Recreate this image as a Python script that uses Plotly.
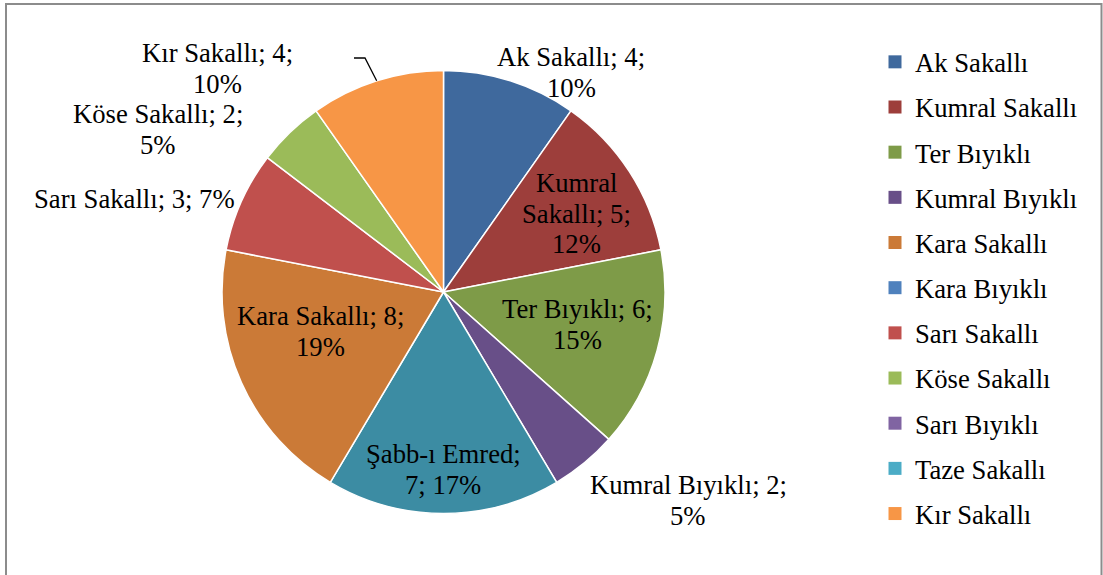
import math
import plotly.graph_objects as go

W, H = 1103, 575

# ---- data (pie slices, clockwise from 12 o'clock) ----
slice_labels = ["Ak Sakallı", "Kumral Sakallı", "Ter Bıyıklı", "Kumral Bıyıklı",
                "Şabb-ı Emred", "Kara Sakallı", "Sarı Sakallı", "Köse Sakallı", "Kır Sakallı"]
slice_values = [4, 5, 6, 2, 7, 8, 3, 2, 4]
slice_percents = [10, 12, 15, 5, 17, 19, 7, 5, 10]

# ---- legend entries ----
legend_labels = ["Ak Sakallı", "Kumral Sakallı", "Ter Bıyıklı", "Kumral Bıyıklı", "Kara Sakallı",
                 "Kara Bıyıklı", "Sarı Sakallı", "Köse Sakallı", "Sarı Bıyıklı", "Taze Sakallı", "Kır Sakallı"]

# ---- styles ----
slice_colors = ["#3F699D", "#9D3E3B", "#7E9B48", "#684F88", "#3C8CA3",
                "#CB7A37", "#C0504D", "#9BBB59", "#F79646"]
legend_colors = ["#3F699D", "#9D3E3B", "#7E9B48", "#684F88", "#CB7A37",
                 "#4F81BD", "#C0504D", "#9BBB59", "#8064A2", "#4BACC6", "#F79646"]
wrap_width = [15, 11, 15, 18, 13, 16, 30, 16, 15]
# label anchor (center x, first-line baseline y) in pixels
label_pos = [(571, 66), (576, 192), (577, 318), (688, 494), (443, 463),
             (320, 325), (134, 208), (158, 123), (217.5, 62)]
FONT = "Liberation Serif"
FS = 26.67
LINE_H = 30.7

# pie geometry in pixels
CX, CY, R = 443.5, 292.0, 221.5


def px(x):
    return x / W


def py(y):
    return 1 - y / H


def wrap(text, width):
    words = text.split(" ")
    lines, cur = [], ""
    for w in words:
        cand = w if not cur else cur + " " + w
        if len(cand) <= width or not cur:
            cur = cand
        else:
            lines.append(cur)
            cur = w
    lines.append(cur)
    return lines


fig = go.Figure()
fig.add_trace(go.Pie(
    labels=slice_labels, values=slice_values, sort=False, direction="clockwise",
    rotation=0, textinfo="none", hoverinfo="label+value+percent",
    marker=dict(colors=slice_colors, line=dict(color="white", width=1.5)),
    domain=dict(x=[px(CX - R), px(CX + R)], y=[py(CY + R), py(CY - R)]),
    showlegend=False,
))

for i, (lab, col) in enumerate(zip(legend_labels, legend_colors)):
    fig.add_trace(go.Scatter(
        x=[None], y=[None], mode="markers", name=lab, legendgroup=f"g{i}",
        marker=dict(symbol="square", size=13, color=col),
    ))

annotations = []
for lab, v, p, ww, (lx, ly) in zip(slice_labels, slice_values, slice_percents, wrap_width, label_pos):
    lines = wrap(f"{lab}; {v}; {p}%", ww)
    for k, line in enumerate(lines):
        base = ly + k * LINE_H
        annotations.append(dict(
            x=px(lx), y=py(base - 0.3375 * FS), xref="paper", yref="paper",
            text=line, showarrow=False, xanchor="center", yanchor="middle",
            font=dict(family=FONT, size=FS, color="black"), borderpad=0,
        ))

# leader line for the last slice (Kır Sakallı)
total = sum(slice_values)
mid = (total - slice_values[-1] / 2) / total * 2 * math.pi
ex, ey = CX + R * math.sin(mid), CY - R * math.cos(mid)
shapes = [
    dict(type="path", xref="paper", yref="paper",
         path=f"M {px(354)} {py(58)} L {px(365)} {py(58)} L {px(ex)} {py(ey)}",
         line=dict(color="black", width=1.3)),
    dict(type="rect", xref="paper", yref="paper", x0=px(6), x1=px(1101.5), y0=-0.05, y1=py(4),
         line=dict(color="#8C8C8C", width=2)),
]

fig.update_layout(
    width=W, height=H, margin=dict(l=0, r=0, t=0, b=0),
    paper_bgcolor="white", plot_bgcolor="white",
    font=dict(family=FONT),
    xaxis=dict(visible=False), yaxis=dict(visible=False),
    annotations=annotations, shapes=shapes,
    legend=dict(x=px(875), y=py(38), xanchor="left", yanchor="top",
                font=dict(family=FONT, size=FS, color="black"),
                tracegroupgap=7.5, bgcolor="rgba(0,0,0,0)"),
)

fig.write_html("out.html", config={"displayModeBar": False},
               post_script="document.body.style.margin='0px';")
